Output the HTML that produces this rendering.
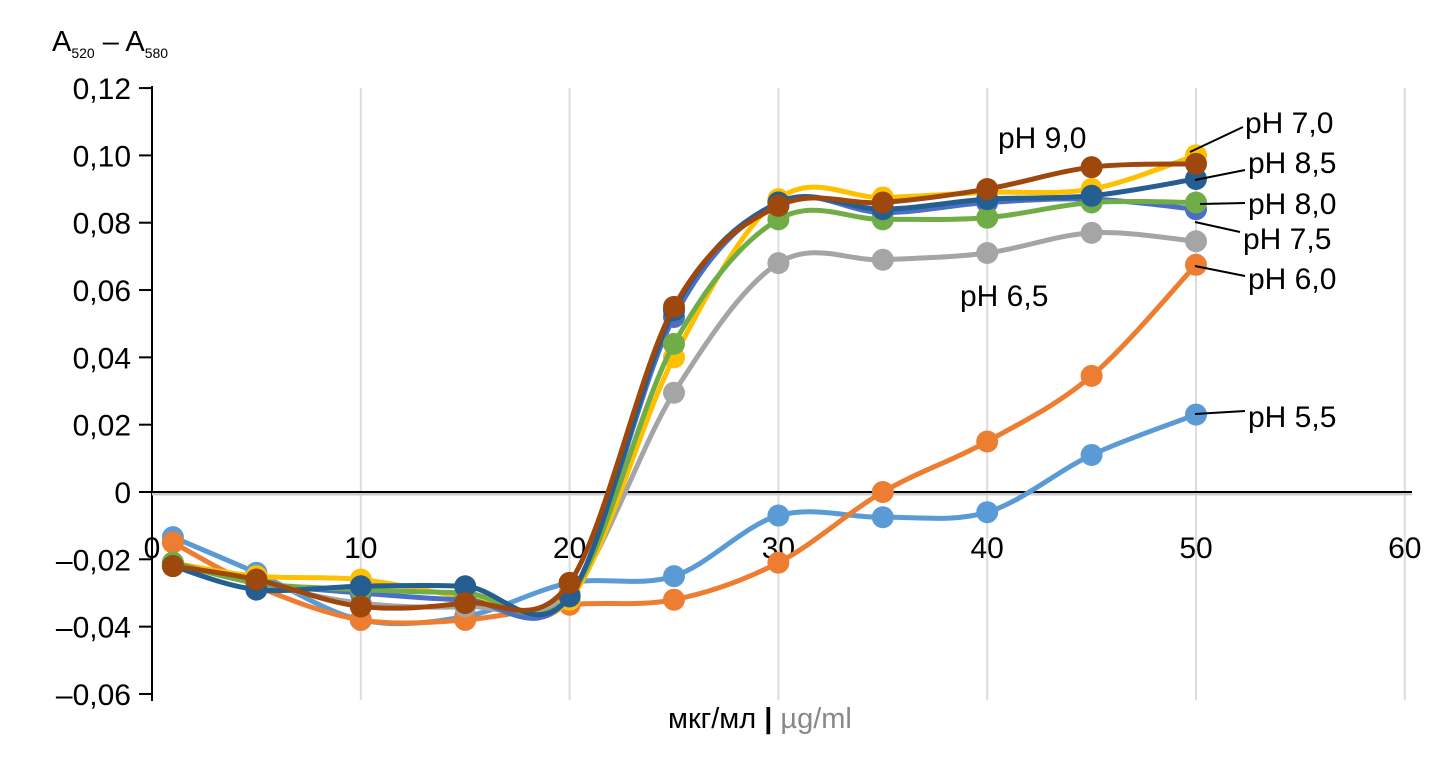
<!DOCTYPE html>
<html><head><meta charset="utf-8"><style>
body{margin:0;background:#fff;position:relative;}
svg{display:block;font-family:"Liberation Sans",Arial,sans-serif;}
</style></head><body>
<svg id="chart" width="1435" height="757" viewBox="0 0 1435 757">
<g id="grid"></g><g id="axes"></g><g id="series"></g><g id="labels"></g>
</svg>
<script>
const xs = [1,5,10,15,20,25,30,35,40,45,50];
const seriesNames = ["pH 5,5","pH 6,0","pH 6,5","pH 7,0","pH 7,5","pH 8,0","pH 8,5","pH 9,0"];
const ph55 = [-0.0134,-0.024,-0.038,-0.037,-0.027,-0.025,-0.007,-0.0075,-0.006,0.011,0.023];
const ph60 = [-0.015,-0.028,-0.038,-0.038,-0.0335,-0.032,-0.021,0.0,0.015,0.0345,0.0675];
const ph65 = [-0.021,-0.027,-0.033,-0.034,-0.030,0.0295,0.068,0.069,0.071,0.077,0.0745];
const ph70 = [-0.021,-0.025,-0.026,-0.031,-0.032,0.040,0.087,0.0875,0.089,0.090,0.100];
const ph75 = [-0.021,-0.027,-0.030,-0.032,-0.031,0.052,0.086,0.083,0.086,0.087,0.084];
const ph80 = [-0.021,-0.027,-0.029,-0.030,-0.031,0.044,0.081,0.081,0.0815,0.086,0.086];
const ph85 = [-0.022,-0.029,-0.028,-0.028,-0.031,0.054,0.086,0.084,0.087,0.088,0.093];
const ph90 = [-0.022,-0.026,-0.034,-0.033,-0.027,0.055,0.085,0.086,0.090,0.0965,0.0975];
const yTicks = [0.12,0.10,0.08,0.06,0.04,0.02,0,-0.02,-0.04,-0.06];
const yTickLabels = ["0,12","0,10","0,08","0,06","0,04","0,02","0","–0,02","–0,04","–0,06"];
const xTicks = [0,10,20,30,40,50,60];
const colors = ["#5b9bd5","#ed7d31","#a5a5a5","#ffc000","#4a6fc4","#70ad47","#255e91","#9e480e"];
const allSeries = [ph55,ph60,ph65,ph70,ph75,ph80,ph85,ph90];

const NS="http://www.w3.org/2000/svg";
function X(v){return 152+v*20.88;}
function Y(v){return 492-v*3366;}
function mk(tag,attrs,parent){const e=document.createElementNS(NS,tag);for(const k in attrs)e.setAttribute(k,attrs[k]);parent.appendChild(e);return e;}
const grid=document.getElementById('grid'),axes=document.getElementById('axes'),ser=document.getElementById('series'),lab=document.getElementById('labels');

xTicks.forEach(t=>{ if(t===0) return;
  const l=mk('line',{x1:X(t),x2:X(t),y1:88,y2:700,stroke:'#dcdcdc','stroke-width':2},grid);
  
  
});
const ya=mk('line',{x1:152,x2:152,y1:86,y2:701,stroke:'#000','stroke-width':2},axes);


yTicks.forEach((t,i)=>{
  const tk=mk('line',{x1:139,x2:152,y1:Y(t),y2:Y(t),stroke:'#000','stroke-width':2},axes);
  
  
  const tx=mk('text',{x:131,y:Y(t)+11,'text-anchor':'end','font-size':30},axes);
  tx.textContent=yTickLabels[i];
  
  
});
mk('line',{x1:152,x2:1412,y1:Y(0)+2,y2:Y(0)+2,stroke:'#ccc','stroke-width':3},axes);
const za=mk('line',{x1:152,x2:1412,y1:Y(0),y2:Y(0),stroke:'#000','stroke-width':2},axes);


xTicks.forEach(t=>{
  const tx=mk('text',{x:X(t),y:558,'text-anchor':'middle','font-size':30},axes);
  tx.textContent=String(t);
  
  
});

function path(vals){
  const p=vals.map((v,i)=>[X(xs[i]),Y(v)]);
  let d='M'+p[0][0]+','+p[0][1];
  for(let i=0;i<p.length-1;i++){
    const p0=p[Math.max(0,i-1)],p1=p[i],p2=p[i+1],p3=p[Math.min(p.length-1,i+2)];
    const c1=[p1[0]+(p2[0]-p0[0])/6,p1[1]+(p2[1]-p0[1])/6];
    const c2=[p2[0]-(p3[0]-p1[0])/6,p2[1]-(p3[1]-p1[1])/6];
    d+=' C'+c1+' '+c2+' '+p2;
  }
  return d;
}
allSeries.forEach((vals,si)=>{
  const g=mk('g',{},ser);
  
  
  mk('path',{d:path(vals),fill:'none',stroke:colors[si],'stroke-width':5},g);
  vals.forEach((v,i)=>{
    const c=mk('circle',{cx:X(xs[i]),cy:Y(v),r:11,fill:colors[si]},g);
    
    
  });
});

const anns=[
 ["pH 7,0",1245,133,1190,152,1243,127],
 ["pH 8,5",1248,173,1195,180,1245,170],
 ["pH 8,0",1248,214,1200,204,1245,203],
 ["pH 7,5",1243,249,1195,222,1240,232],
 ["pH 6,0",1248,289,1195,266,1245,276],
 ["pH 5,5",1248,427,1195,414,1245,411],
 ["pH 9,0",998,148],["pH 6,5",960,306]
];
anns.forEach(a=>{
  if(a.length>3){const l=mk('line',{x1:a[3],y1:a[4],x2:a[5],y2:a[6],stroke:'#000','stroke-width':2},lab);
    
    }
  const t=mk('text',{x:a[1],y:a[2],'font-size':30},lab);
  t.textContent=a[0];
  
  
});
</script>
<div style="position:absolute;left:52px;top:26px;font:29px 'Liberation Sans',sans-serif;">A<sub style="font-size:14px">520</sub> – A<sub style="font-size:14px">580</sub></div>
<div style="position:absolute;left:668px;top:703px;font:29px 'Liberation Sans',sans-serif;">мкг/мл <b>|</b> <span style="color:#888">µg/ml</span></div>
</body></html>
